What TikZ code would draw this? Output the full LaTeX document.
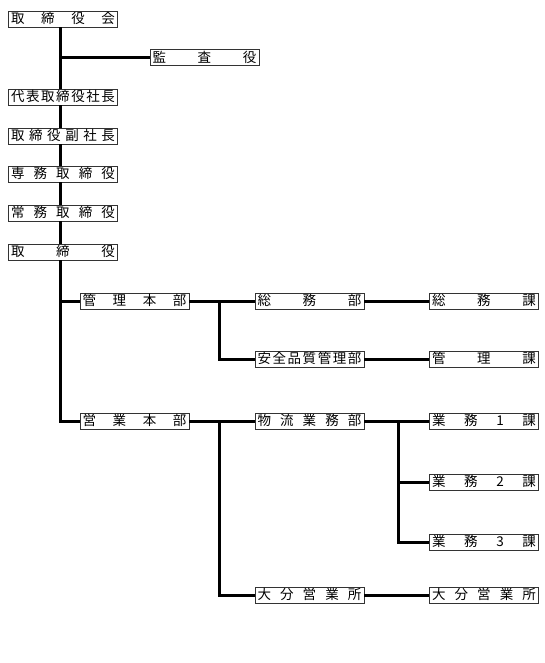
\documentclass[tikz,border=0pt]{standalone}
\usepackage{fontspec}
\newfontfamily\jp{Noto Sans CJK JP}
\newcommand\spr[1]{\makebox[104pt][s]{#1}}
\begin{document}
\begin{tikzpicture}[x=1pt,y=-1pt,
  box/.style={draw=black!80, line width=0.9pt, fill=white, minimum width=109pt,
    minimum height=16pt, inner xsep=2.5pt, inner ysep=0pt,
    font=\jp\fontsize{13.5}{13.5}\selectfont, text height=11.2pt, text depth=2pt},
  conn/.style={line width=3pt, black}]
\useasboundingbox (0,0) rectangle (545,663);
\coordinate (t) at (60,0);
\coordinate (j1) at (219,301);
\coordinate (j2) at (219,421);
\coordinate (j3) at (398,421);
% nodes
\node[box] (board) at (63,19) {\spr{取\hfill 締\hfill 役\hfill 会}};
\node[box] (kansa) at (204.5,57.5) {\spr{監\hfill 査\hfill 役}};
\node[box] (daihyo) at (63,97) {\spr{代\hfill 表\hfill 取\hfill 締\hfill 役\hfill 社\hfill 長}};
\node[box] (fuku) at (63,136) {\spr{取\hfill 締\hfill 役\hfill 副\hfill 社\hfill 長}};
\node[box] (senmu) at (63,174) {\spr{専\hfill 務\hfill 取\hfill 締\hfill 役}};
\node[box] (joumu) at (63,213) {\spr{常\hfill 務\hfill 取\hfill 締\hfill 役}};
\node[box] (tori) at (63,252) {\spr{取\hfill 締\hfill 役}};
\node[box] (kanri) at (134.5,301) {\spr{管\hfill 理\hfill 本\hfill 部}};
\node[box] (soumubu) at (309.5,301) {\spr{総\hfill 務\hfill 部}};
\node[box] (soumuka) at (484,301) {\spr{総\hfill 務\hfill 課}};
\node[box] (anzen) at (309.5,359) {\spr{安\hfill 全\hfill 品\hfill 質\hfill 管\hfill 理\hfill 部}};
\node[box] (kanrika) at (484,359) {\spr{管\hfill 理\hfill 課}};
\node[box] (eigyo) at (134.5,421) {\spr{営\hfill 業\hfill 本\hfill 部}};
\node[box] (butsuryu) at (309.5,421) {\spr{物\hfill 流\hfill 業\hfill 務\hfill 部}};
\node[box] (g1) at (484,421) {\spr{業\hfill 務\hfill 1\hfill 課}};
\node[box] (g2) at (484,482) {\spr{業\hfill 務\hfill 2\hfill 課}};
\node[box] (g3) at (484,542) {\spr{業\hfill 務\hfill 3\hfill 課}};
\node[box] (oita) at (309.5,595) {\spr{大\hfill 分\hfill 営\hfill 業\hfill 所}};
\node[box] (oita2) at (484,595) {\spr{大\hfill 分\hfill 営\hfill 業\hfill 所}};
% connectors
\draw[conn] (board.south -| t) -- (daihyo.north -| t);
\draw[conn] (kansa.west -| t) -- (kansa.west);
\draw[conn] (daihyo.south -| t) -- (fuku.north -| t);
\draw[conn] (fuku.south -| t) -- (senmu.north -| t);
\draw[conn] (senmu.south -| t) -- (joumu.north -| t);
\draw[conn] (joumu.south -| t) -- (tori.north -| t);
\draw[conn] (tori.south -| t) |- (eigyo.west);
\draw[conn] (kanri.west -| t) -- (kanri.west);
\draw[conn] (kanri.east) -- (soumubu.west);
\draw[conn] (j1) |- (anzen.west);
\draw[conn] (soumubu.east) -- (soumuka.west);
\draw[conn] (anzen.east) -- (kanrika.west);
\draw[conn] (eigyo.east) -- (butsuryu.west);
\draw[conn] (j2) |- (oita.west);
\draw[conn] (butsuryu.east) -- (g1.west);
\draw[conn] (j3) |- (g2.west);
\draw[conn] (j3) |- (g3.west);
\draw[conn] (oita.east) -- (oita2.west);
\end{tikzpicture}
\end{document}
